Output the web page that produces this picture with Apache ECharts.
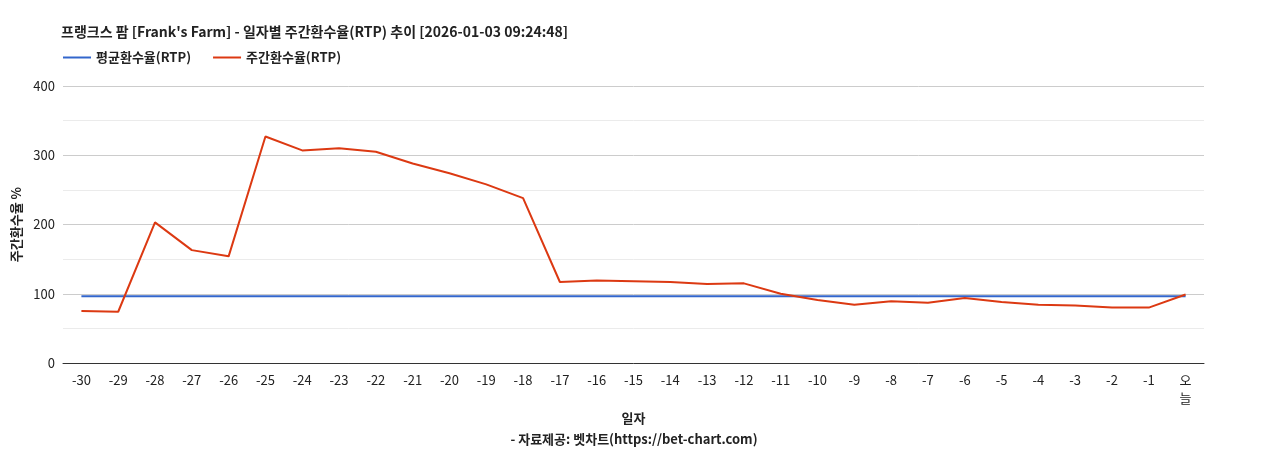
<!DOCTYPE html>
<html><head><meta charset="utf-8">
<script src="https://cdn.jsdelivr.net/npm/echarts@6/dist/echarts.min.js"></script>
<style>body{margin:0}#c{width:1268px;height:450px}</style></head>
<body><div id="c"></div>
<script>
const categories=['-30','-29','-28','-27','-26','-25','-24','-23','-22','-21','-20','-19','-18','-17','-16','-15','-14','-13','-12','-11','-10','-9','-8','-7','-6','-5','-4','-3','-2','-1','오\n늘'];
const weeklyRTP=[75,74,203,163,154,327,307,310,305,288,274,258,238,117,119,118,117,114,115,100,91,84,89,87,94,88,84,83,80,80,99];
const avgRTP=categories.map(()=>96.5);
const yTicks=[0,100,200,300,400];
const F='"Noto Sans CJK KR", Roboto, sans-serif';
const chart=echarts.init(document.getElementById('c'));
chart.setOption({
  textStyle:{fontFamily:F},
  title:[{text:"프랭크스 팜 [Frank's Farm] - 일자별 주간환수율(RTP) 추이 [2026-01-03 09:24:48]",left:56,top:20,textStyle:{fontSize:14,fontWeight:'bold',color:'#222',fontFamily:F}},
    {text:'- 자료제공: 벳차트(https://bet-chart.com)',left:'center',top:428,textStyle:{fontSize:13,fontWeight:'bold',color:'#222',fontFamily:F}}],
  legend:{left:58,top:46,itemWidth:28,itemHeight:2,icon:'rect',itemGap:22,textStyle:{fontSize:13,fontWeight:'bold',color:'#222',fontFamily:F},
    data:['평균환수율(RTP)','주간환수율(RTP)']},
  grid:{left:63,right:64,top:86,bottom:87},
  xAxis:{type:'category',data:categories,name:'일자',nameLocation:'middle',nameGap:44,
    nameTextStyle:{fontSize:13,fontWeight:'bold',color:'#222'},
    axisLine:{lineStyle:{color:'#333'}},axisTick:{show:false},
    axisLabel:{color:'#222',fontSize:13,interval:0,lineHeight:18}},
  yAxis:{type:'value',min:0,max:400,interval:100,name:'주간환수율 %',nameLocation:'middle',nameGap:30,
    nameTextStyle:{fontSize:13,fontWeight:'bold',color:'#222'},
    axisLabel:{color:'#222',fontSize:13},
    splitLine:{lineStyle:{color:'#ccc'}},
    minorTick:{show:false,splitNumber:2},minorSplitLine:{show:true,lineStyle:{color:'#ebebeb'}}},
  series:[
    {name:'평균환수율(RTP)',type:'line',data:avgRTP,symbol:'none',lineStyle:{color:'#3366cc',width:2},itemStyle:{color:'#3366cc'}},
    {name:'주간환수율(RTP)',type:'line',data:weeklyRTP,symbol:'none',lineStyle:{color:'#dc3912',width:2},itemStyle:{color:'#dc3912'}}
  ]
});
</script></body></html>
